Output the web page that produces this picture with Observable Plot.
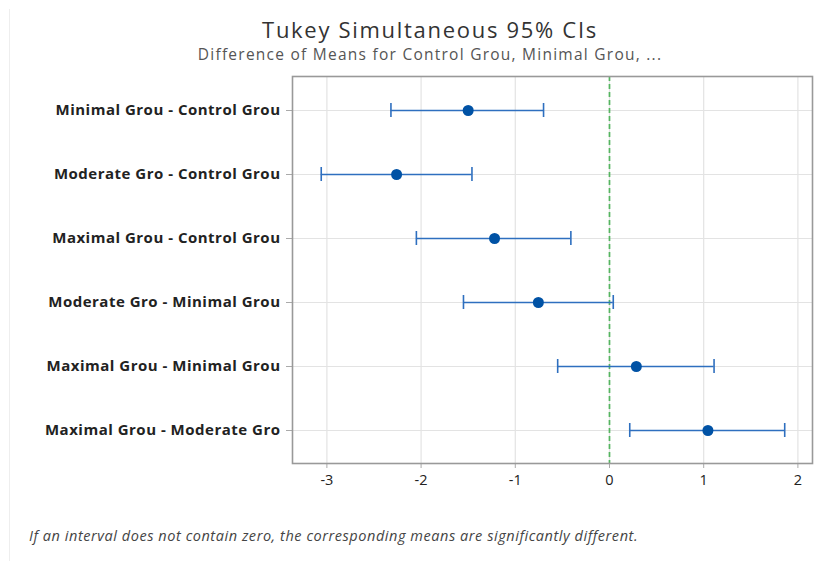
<!DOCTYPE html>
<html>
<head>
<meta charset="utf-8">
<script src="https://cdn.jsdelivr.net/npm/d3@7"></script>
<script src="https://cdn.jsdelivr.net/npm/@observablehq/plot@0.6"></script>
<style>
  html, body { margin: 0; padding: 0; background: #fff; }
  #wrap { position: relative; width: 835px; height: 562px; overflow: hidden; font-family: "Open Sans", sans-serif; }
  .t { position: absolute; left: 0; width: 860px; text-align: center; white-space: nowrap; line-height: 1; }
  #title { top: 18px; font-size: 22px; color: #333; letter-spacing: 1.7px; }
  #subtitle { top: 47px; font-size: 15.5px; color: #555; letter-spacing: 1.25px; }
  #caption { position: absolute; left: 29px; top: 529px; font-size: 14.5px; font-style: italic; color: #444; line-height: 1; white-space: nowrap; letter-spacing: 0.55px; }
  #edge { position: absolute; left: 9px; top: 9px; height: 552px; border-left: 1px solid #eeeeee; }
  #chart { position: absolute; left: 0; top: 60px; }
</style>
</head>
<body>
<div id="wrap">
  <div id="edge"></div>
  <div class="t" id="title">Tukey Simultaneous 95% CIs</div>
  <div class="t" id="subtitle">Difference of Means for Control Grou, Minimal Grou, ...</div>
  <div id="chart"></div>
  <div id="caption">If an interval does not contain zero, the corresponding means are significantly different.</div>
</div>
<script>
const comparisons = [
  "Minimal Grou - Control Grou",
  "Moderate Gro - Control Grou",
  "Maximal Grou - Control Grou",
  "Moderate Gro - Minimal Grou",
  "Maximal Grou - Minimal Grou",
  "Maximal Grou - Moderate Gro"
];
const centers = [-1.50, -2.26, -1.22, -0.755, 0.285, 1.045];
const lowers  = [-2.32, -3.06, -2.05, -1.55, -0.55, 0.215];
const uppers  = [-0.70, -1.46, -0.41, 0.04, 1.11, 1.86];
const xTicks = [-3, -2, -1, 0, 1, 2];

const data = comparisons.map((c, i) => ({label: c, center: centers[i], lower: lowers[i], upper: uppers[i]}));

const chart = Plot.plot({
  width: 835,
  height: 440,
  marginLeft: 292,
  marginRight: 23,
  marginTop: 16,
  marginBottom: 37,
  style: {fontFamily: "Open Sans, sans-serif", fontSize: "14px", color: "#222", background: "transparent"},
  x: {domain: [-3.365, 2.155]},
  y: {domain: comparisons, type: "band", padding: 0},
  marks: [
    Plot.gridX(xTicks, {stroke: "#e3e3e3", strokeOpacity: 1, strokeWidth: 1.2}),
    Plot.gridY(comparisons, {stroke: "#e3e3e3", strokeOpacity: 1, strokeWidth: 1.2}),
    Plot.axisX({ticks: xTicks, tickFormat: d => String(d), tickSize: 5, tickPadding: 6, stroke: "#aaa", label: null, fontSize: 14.5}),
    Plot.axisY({tickSize: 6, tickPadding: 6, stroke: "#aaa", label: null, fontWeight: "bold", fontSize: 15}),
    Plot.ruleX([0], {stroke: "#55b560", strokeWidth: 1.7, strokeDasharray: "5,3"}),
    Plot.ruleY(data, {y: "label", x1: "lower", x2: "upper", stroke: "#2e6fbf", strokeWidth: 1.6}),
    Plot.tickX(data, {x: "lower", y: "label", stroke: "#2e6fbf", strokeWidth: 1.6, insetTop: 25, insetBottom: 25}),
    Plot.tickX(data, {x: "upper", y: "label", stroke: "#2e6fbf", strokeWidth: 1.6, insetTop: 25, insetBottom: 25}),
    Plot.dot(data, {x: "center", y: "label", r: 5.5, fill: "#0052a5", stroke: "none"}),
    Plot.frame({stroke: "#999", strokeWidth: 1.6})
  ]
});
document.getElementById("chart").appendChild(chart);
chart.querySelectorAll("g[aria-label='y-axis tick label'] text").forEach(t => t.style.letterSpacing = "0.5px");
</script>
</body>
</html>
